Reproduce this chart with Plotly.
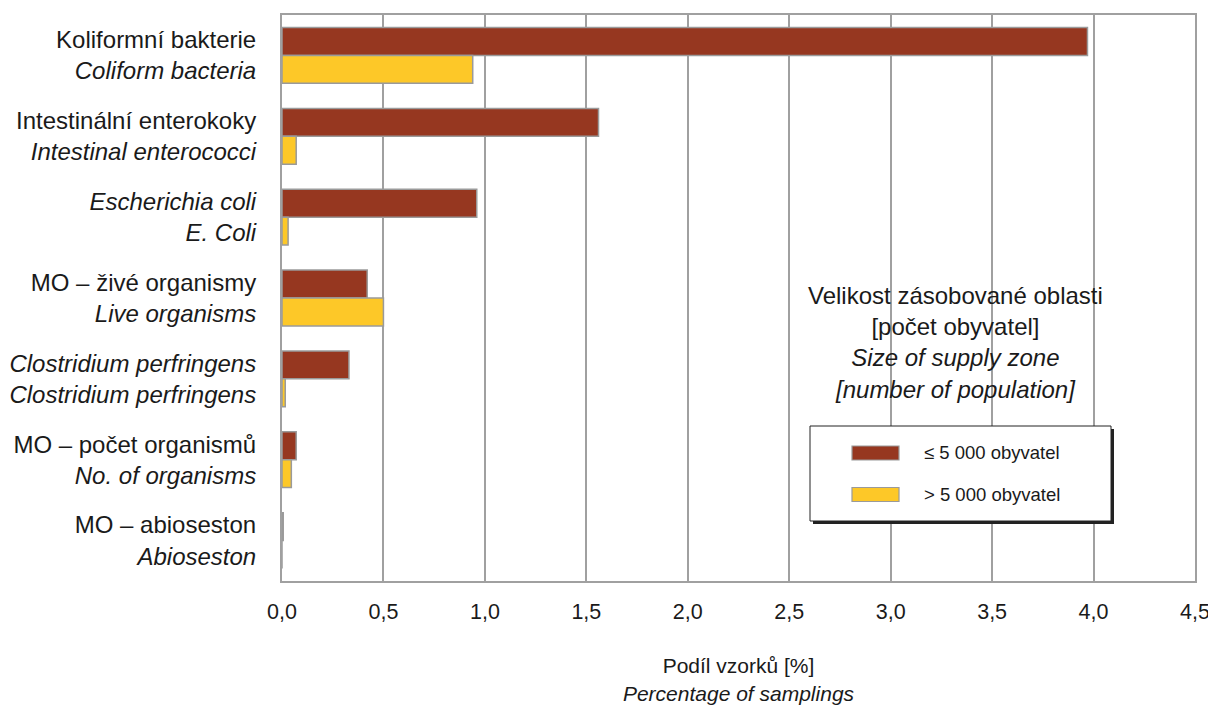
import plotly.graph_objects as go

# ---- data ----
categories = [
    "Koliformní bakterie<br><i>Coliform bacteria</i>",
    "Intestinální enterokoky<br><i>Intestinal enterococci</i>",
    "<i>Escherichia coli</i><br><i>E. Coli</i>",
    "MO – živé organismy<br><i>Live organisms</i>",
    "<i>Clostridium perfringens</i><br><i>Clostridium perfringens</i>",
    "MO – počet organismů<br><i>No. of organisms</i>",
    "MO – abioseston<br><i>Abioseston</i>",
]
small_zone = [3.97, 1.56, 0.96, 0.42, 0.33, 0.07, 0.006]
large_zone = [0.94, 0.07, 0.03, 0.50, 0.016, 0.046, 0.0]
series_names = ["≤ 5 000 obyvatel", "> 5 000 obyvatel"]
tick_vals = [0, 0.5, 1, 1.5, 2, 2.5, 3, 3.5, 4, 4.5]
tick_text = ["0,0", "0,5", "1,0", "1,5", "2,0", "2,5", "3,0", "3,5", "4,0", "4,5"]

BROWN = "#963720"
YELLOW = "#FDC828"
EDGE = "#9a9a9a"
TXT = "#1a1a1a"
FONT = "Liberation Sans, Arial, sans-serif"

OFF = 8  # page body margin
W, H = 1216 - OFF, 716 - 2 * OFF
L, R, T, B = 282 - OFF, 1195 - OFF, 15 - OFF, 581 - OFF


def px(x):
    return (x - OFF - L) / (R - L)


def py(y):
    return (B - (y - OFF)) / (B - T)


fig = go.Figure()
fig.add_trace(go.Bar(
    y=categories, x=small_zone, orientation="h", name=series_names[0],
    marker=dict(color=BROWN, line=dict(color=EDGE, width=1.5)),
    showlegend=False,
))
fig.add_trace(go.Bar(
    y=categories, x=large_zone, orientation="h", name=series_names[1],
    marker=dict(color=YELLOW, line=dict(color=EDGE, width=1.5)),
    showlegend=False,
))

shapes = []
# legend box with shadow
shapes.append(dict(type="rect", xref="paper", yref="paper",
                   x0=px(813), x1=px(1114), y0=py(524), y1=py(429),
                   fillcolor="#222222", line=dict(width=0), layer="above"))
shapes.append(dict(type="rect", xref="paper", yref="paper",
                   x0=px(810), x1=px(1111), y0=py(521), y1=py(426),
                   fillcolor="white", line=dict(color="#222222", width=1), layer="above"))
# swatches
for (yc, col) in [(453, BROWN), (494.5, YELLOW)]:
    shapes.append(dict(type="rect", xref="paper", yref="paper",
                       x0=px(852), x1=px(899), y0=py(yc + 7), y1=py(yc - 7),
                       fillcolor=col, line=dict(color=EDGE, width=1.2), layer="above"))

annotations = [
    dict(xref="paper", yref="paper", x=px(955), y=py(342), xanchor="center", yanchor="middle",
         text="Velikost zásobované oblasti<br>[počet obyvatel]<br><i>Size of supply zone</i><br><i>[number of population]</i>",
         showarrow=False, align="center", font=dict(size=24, color=TXT, family=FONT)),
    dict(xref="paper", yref="paper", x=px(922), y=py(453), xanchor="left", yanchor="middle",
         text=series_names[0], showarrow=False, font=dict(size=18.5, color=TXT, family=FONT)),
    dict(xref="paper", yref="paper", x=px(922), y=py(494.5), xanchor="left", yanchor="middle",
         text=series_names[1], showarrow=False, font=dict(size=18.5, color=TXT, family=FONT)),
]

fig.update_layout(
    width=W, height=H,
    margin=dict(l=L, r=W - R, t=T, b=H - B, autoexpand=False),
    paper_bgcolor="white", plot_bgcolor="white",
    barmode="group", bargap=0.31, bargroupgap=0.0,
    font=dict(family=FONT, color=TXT, size=21),
    shapes=shapes, annotations=annotations,
)
fig.update_xaxes(
    range=[0, 4.5], tickvals=tick_vals, ticktext=tick_text,
    showgrid=True, gridcolor="#a0a0a0", gridwidth=1.5,
    showline=True, linecolor="#a0a0a0", linewidth=2, mirror=True,
    zeroline=False, ticks="", ticklabelstandoff=10, automargin=False,
    tickfont=dict(size=21.5, color=TXT, family=FONT),
    title=dict(text="Podíl vzorků [%]<br><i>Percentage of samplings</i>",
               font=dict(size=21, color=TXT, family=FONT), standoff=36),
)
fig.update_yaxes(
    categoryorder="array", categoryarray=categories, autorange="reversed",
    showgrid=False, showline=True, linecolor="#a0a0a0", linewidth=2, mirror=True,
    ticks="", ticklabelstandoff=19, automargin=False,
    tickfont=dict(size=24, color=TXT, family=FONT),
)

fig.write_html("out.html")
